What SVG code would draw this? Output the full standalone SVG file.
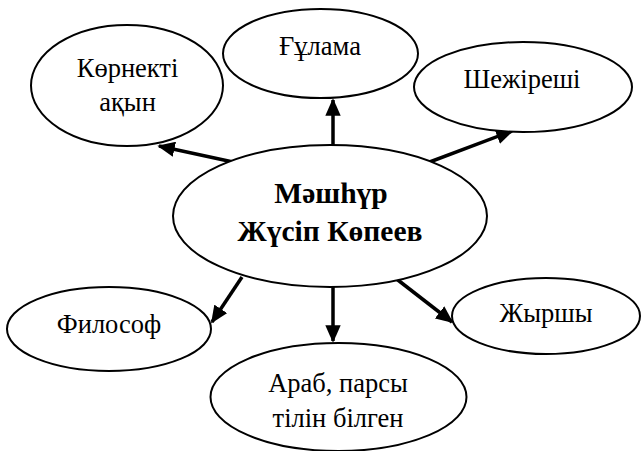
<svg xmlns="http://www.w3.org/2000/svg" width="641" height="451" viewBox="0 0 641 451">
<defs>
<marker id="ah" markerWidth="5" markerHeight="4.4" refX="4.5" refY="2.2" orient="auto" markerUnits="strokeWidth">
<path d="M0,0 L5,2.2 L0,4.4 Z" fill="#000"/>
</marker>
<style>
.n ellipse{fill:#fff;stroke:#000;stroke-width:2}
text{font-family:"Liberation Serif","Times New Roman",serif;font-size:26.5px;fill:#000;text-anchor:middle}
.b{font-weight:bold;font-size:29.5px}
#edges line{stroke:#000;stroke-width:3.5;marker-end:url(#ah)}
</style>
</defs>
<rect width="641" height="451" fill="#fff"/>
<g id="edges">
<line x1="233" y1="162" x2="159" y2="146"/>
<line x1="333" y1="146" x2="333" y2="100"/>
<line x1="427" y1="163" x2="512" y2="131"/>
<line x1="242" y1="277" x2="212" y2="322"/>
<line x1="333" y1="287" x2="333" y2="341"/>
<line x1="394" y1="277" x2="452" y2="322"/>
</g>
<g id="korn" class="n"><ellipse cx="127" cy="85.5" rx="96" ry="60.5"/><text x="127.5" y="77">Көрнекті</text><text x="127.5" y="111">ақын</text></g>
<g id="gulama" class="n"><ellipse cx="320.5" cy="53.5" rx="97.5" ry="44.5"/><text x="320" y="55">Ғұлама</text></g>
<g id="shezh" class="n"><ellipse cx="523" cy="87" rx="109" ry="45"/><text x="522" y="88">Шежіреші</text></g>
<g id="center" class="n"><ellipse cx="330" cy="216" rx="157" ry="71"/><text class="b" x="331" y="203">Мәшһүр</text><text class="b" x="330" y="241">Жүсіп Көпеев</text></g>
<g id="filosof" class="n"><ellipse cx="109" cy="329" rx="102" ry="42"/><text x="109" y="333">Философ</text></g>
<g id="arab" class="n"><ellipse cx="338.5" cy="397" rx="128" ry="54"/><text x="338" y="392">Араб, парсы</text><text x="338" y="427">тілін білген</text></g>
<g id="zhyr" class="n"><ellipse cx="546" cy="316" rx="94" ry="38"/><text x="546" y="322">Жыршы</text></g>
</svg>
